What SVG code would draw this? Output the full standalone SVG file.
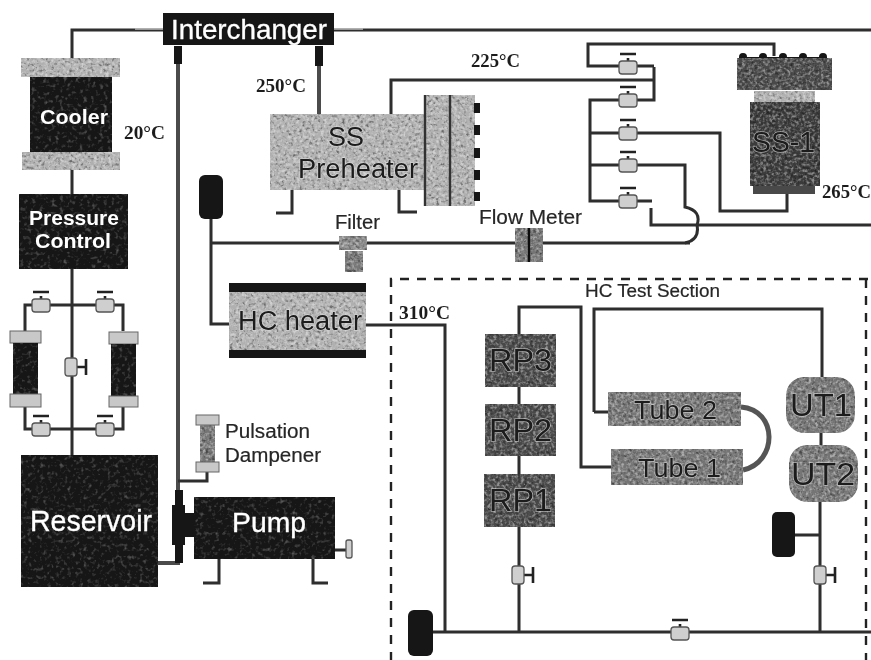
<svg xmlns="http://www.w3.org/2000/svg" width="871" height="660" viewBox="0 0 871 660">
<style>
text{font-family:"Liberation Sans",Arial,sans-serif}
.w{fill:#fff;stroke:#fff;stroke-width:.35}
.wb{fill:#fff;font-weight:bold}
.k{fill:#262626;stroke:#262626;stroke-width:.2}
.h{fill:#1a1a1a;stroke:#e8e8e8;stroke-width:1.4;paint-order:stroke;stroke-opacity:.6}
.t{font-family:"Liberation Serif","Times New Roman",serif;font-weight:bold;fill:#1c1c1c;font-size:18px}
.p{fill:none;stroke:#2f2f2f;stroke-width:3}
.pl{fill:none;stroke:#4c4c4c;stroke-width:4}
.pw{fill:none;stroke:#bbb;stroke-width:1.4}
.d{fill:none;stroke:#222;stroke-width:2.4;stroke-dasharray:9 8}
.dk{fill:#141414}
.gr{fill:#b0b0b0}
.md{fill:#757575}
.dg{fill:#4a4a4a}
.fl{fill:#c8c8c8;stroke:#666;stroke-width:1}
.vb{fill:#cfcfcf;stroke:#555;stroke-width:1.3}
.vs{fill:none;stroke:#222;stroke-width:2.6}
</style>
<defs>
<filter id="n" x="0" y="0" width="100%" height="100%" color-interpolation-filters="sRGB">
<feTurbulence type="fractalNoise" baseFrequency="0.33" numOctaves="2" seed="4" result="t"/>
<feColorMatrix in="t" type="matrix" values="0 0 0 0 1 0 0 0 0 1 0 0 0 0 1 2.2 2.2 0 0 -2.05" result="a"/>
<feComponentTransfer in="a" result="wn"><feFuncA type="linear" slope=".4"/></feComponentTransfer>
<feColorMatrix in="t" type="matrix" values="0 0 0 0 0 0 0 0 0 0 0 0 0 0 0 0 -2.2 -2.2 0 2.05" result="b"/>
<feComponentTransfer in="b" result="kn"><feFuncA type="linear" slope=".4"/></feComponentTransfer>
<feMerge result="m"><feMergeNode in="SourceGraphic"/><feMergeNode in="wn"/><feMergeNode in="kn"/></feMerge>
<feComposite in="m" in2="SourceGraphic" operator="in"/>
</filter>
<filter id="s" x="0" y="0" width="100%" height="100%" color-interpolation-filters="sRGB">
<feTurbulence type="fractalNoise" baseFrequency="0.25" numOctaves="2" seed="9" result="t"/>
<feColorMatrix in="t" type="matrix" values="0 0 0 0 1 0 0 0 0 1 0 0 0 0 1 1.2 1.2 0 0 -1.2" result="a"/>
<feComponentTransfer in="a" result="a2"><feFuncA type="linear" slope=".4"/></feComponentTransfer>
<feComposite in="a2" in2="SourceGraphic" operator="in" result="c"/>
<feMerge><feMergeNode in="SourceGraphic"/><feMergeNode in="c"/></feMerge>
</filter>
<filter id="b" x="-2%" y="-2%" width="104%" height="104%"><feGaussianBlur stdDeviation="0.45"/></filter>
<g id="vh"><path class="vs" d="M0 0V-9M-8 -13H8"/><rect class="vb" x="-9" y="-6" width="18" height="13" rx="3"/></g>
<g id="vr"><path class="vs" d="M0 0H14M15 -8V8"/><rect class="vb" x="-6" y="-9" width="12" height="18" rx="3"/></g>
</defs>
<rect width="871" height="660" fill="#fff"/>
<g filter="url(#b)">
<g id="connectors">
<path class="p" d="M163 30H72V58M334 30H871"/>
<path class="pw" d="M135 29H163M334 29H363"/>
<path class="p" d="M72 170V194M72 269V455"/>
<path class="pl" d="M178 60V490M319 60V114"/>
<path class="dk" d="M174 46h8v18h-8zM315 46h8v20h-8z"/>
<path class="p" d="M178 481H207V472"/>
<path class="pl" d="M158 563H180"/>
<path class="p" d="M25 331V305H123V331M25 407V429H123V407"/>
<path class="p" d="M211 219V324H229M211 243H690"/>
<path class="p" d="M366 325H445V632"/>
<path class="p" d="M391 114V80H654"/>
<path class="p" d="M654 67V100H590V201H652M590 133H720V211H787V194M590 165H685V207Q702 211 697 225Q700 240 685 243M617 66H588V44H774V56M617 66H654"/>
<path class="p" d="M651 208V225H871"/>
<path class="p" d="M519 334V307H581V467H611M594 412H608M594 412V309H822V377"/>
<path d="M741 407C778 410 778 462 743 470" fill="none" stroke="#555" stroke-width="5"/>
<path class="p" d="M519 387V404M519 456V474M519 527V632M821 433V445M820 502V632M795 535H820"/>
<path class="p" d="M433 632H871"/>
<path class="d" d="M868 279H391V660M866 279V660"/>
<path class="p" d="M219 559V583H203M313 559V583H328M292 190V213H276M399 190V212H417"/>
<path class="p" d="M335 550H347"/>
</g>
<g id="interchanger"><rect class="dk" x="163" y="13" width="171" height="32"/><text class="w" x="171" y="39" font-size="27.5" textLength="156" lengthAdjust="spacingAndGlyphs">Interchanger</text></g>
<g id="cooler"><rect class="gr" x="21" y="58" width="99" height="19" filter="url(#n)"/><rect class="dk" x="30" y="77" width="82" height="75" filter="url(#s)"/><rect class="gr" x="22" y="152" width="98" height="18" filter="url(#n)"/><text class="wb" x="40" y="124" font-size="20" textLength="68" lengthAdjust="spacingAndGlyphs">Cooler</text></g>
<g id="pressure-control"><rect class="dk" x="19" y="194" width="109" height="75" filter="url(#s)"/><text class="wb" x="29" y="225" font-size="20" textLength="90" lengthAdjust="spacingAndGlyphs">Pressure</text><text class="wb" x="35" y="248" font-size="20" textLength="76" lengthAdjust="spacingAndGlyphs">Control</text></g>
<g id="trap-left"><rect class="fl" x="10" y="331" width="31" height="12"/><rect class="dk" x="13" y="343" width="25" height="51" filter="url(#s)"/><rect class="fl" x="10" y="394" width="31" height="13"/></g>
<g id="trap-right"><rect class="fl" x="109" y="332" width="29" height="12"/><rect class="dk" x="111" y="344" width="25" height="52" filter="url(#s)"/><rect class="fl" x="109" y="396" width="29" height="11"/></g>
<g id="valve-a"><use href="#vh" x="41" y="305"/></g>
<g id="valve-b"><use href="#vh" x="105" y="305"/></g>
<g id="valve-c"><use href="#vh" x="41" y="429"/></g>
<g id="valve-d"><use href="#vh" x="105" y="429"/></g>
<g id="valve-e"><use href="#vr" x="71" y="367"/></g>
<g id="reservoir"><rect class="dk" x="21" y="455" width="137" height="132" filter="url(#s)"/><text class="w" x="30" y="531" font-size="29" textLength="122" lengthAdjust="spacingAndGlyphs">Reservoir</text></g>
<g id="pulsation-dampener"><rect class="fl" x="196" y="415" width="23" height="10"/><rect class="md" x="200" y="425" width="15" height="37" filter="url(#n)"/><rect class="fl" x="196" y="462" width="23" height="10"/><text class="k" x="225" y="438" font-size="20" textLength="85" lengthAdjust="spacingAndGlyphs">Pulsation</text><text class="k" x="225" y="462" font-size="20" textLength="96" lengthAdjust="spacingAndGlyphs">Dampener</text></g>
<g id="pump"><path class="dk" d="M175 490h8v15h2v8h9v24h-9v8h-2v18h-8v-18h-3v-40h3z"/><rect class="dk" x="194" y="497" width="141" height="62" filter="url(#s)"/><text class="w" x="232" y="532" font-size="28" textLength="74" lengthAdjust="spacingAndGlyphs">Pump</text><rect class="vb" x="346" y="540" width="6" height="18" rx="2"/></g>
<g id="tank-top"><rect class="dk" x="199" y="175" width="24" height="44" rx="6"/></g>
<g id="filter"><text class="k" x="335" y="229" font-size="20" textLength="45" lengthAdjust="spacingAndGlyphs">Filter</text><rect x="339" y="236" width="28" height="14" fill="#888" filter="url(#n)"/><rect x="345" y="251" width="18" height="21" fill="#777" filter="url(#n)"/></g>
<g id="hc-heater"><rect class="gr" x="229" y="283" width="137" height="75" filter="url(#n)"/><rect class="dk" x="229" y="283" width="137" height="9"/><rect class="dk" x="229" y="350" width="137" height="8"/><text class="h" x="238" y="330" font-size="27" textLength="124" lengthAdjust="spacingAndGlyphs">HC heater</text></g>
<text class="t" x="399" y="319" textLength="51" lengthAdjust="spacingAndGlyphs">310°C</text>
<g id="ss-preheater"><rect class="gr" x="270" y="114" width="155" height="76" filter="url(#n)"/><rect class="gr" x="425" y="95" width="50" height="111" filter="url(#n)"/><path d="M425 95V206M450 95V206" stroke="#333" stroke-width="2.4"/><path class="dk" d="M474 103h6v10h-6zM474 125h6v10h-6zM474 148h6v10h-6zM474 170h6v10h-6zM474 192h6v9h-6z"/><text class="h" x="346" y="146" font-size="27" text-anchor="middle">SS</text><text class="h" x="298" y="178" font-size="27.5" textLength="120" lengthAdjust="spacingAndGlyphs">Preheater</text></g>
<text class="t" x="256" y="92" textLength="50" lengthAdjust="spacingAndGlyphs">250°C</text>
<text class="t" x="124" y="139" textLength="41" lengthAdjust="spacingAndGlyphs">20°C</text>
<text class="t" x="471" y="67" textLength="49" lengthAdjust="spacingAndGlyphs">225°C</text>
<g id="valve-1"><use href="#vh" x="628" y="67"/></g>
<g id="valve-2"><use href="#vh" x="628" y="100"/></g>
<g id="valve-3"><use href="#vh" x="628" y="133"/></g>
<g id="valve-4"><use href="#vh" x="628" y="165"/></g>
<g id="valve-5"><use href="#vh" x="628" y="201"/></g>
<g id="ss-1"><path class="dk" d="M739 57a4 4 0 0 1 8 0h12a4 4 0 0 1 8 0h12a4 4 0 0 1 8 0h12a4 4 0 0 1 8 0h12a4 4 0 0 1 8 0v4h-88z"/><rect class="dg" x="737" y="58" width="95" height="32" filter="url(#n)"/><rect class="gr" x="754" y="91" width="61" height="11" filter="url(#n)"/><rect x="750" y="102" width="70" height="84" fill="#3b3b3b" filter="url(#n)"/><rect class="dg" x="753" y="186" width="62" height="8"/><text class="h" x="752" y="152" font-size="29" textLength="63" lengthAdjust="spacingAndGlyphs">SS-1</text></g>
<text class="t" x="822" y="198" textLength="49" lengthAdjust="spacingAndGlyphs">265°C</text>
<g id="flow-meter"><text class="k" x="479" y="224" font-size="20" textLength="103" lengthAdjust="spacingAndGlyphs">Flow Meter</text><rect class="md" x="515" y="228" width="28" height="34" filter="url(#n)"/><path d="M529 228V262" stroke="#111" stroke-width="2.4"/></g>
<text class="k" x="585" y="297" font-size="18" textLength="135" lengthAdjust="spacingAndGlyphs">HC Test Section</text>
<g id="rp3"><rect class="dg" x="485" y="334" width="71" height="53" filter="url(#n)"/><text class="h" x="489" y="371" font-size="31" textLength="63" lengthAdjust="spacingAndGlyphs">RP3</text></g>
<g id="rp2"><rect class="dg" x="485" y="404" width="71" height="52" filter="url(#n)"/><text class="h" x="489" y="441" font-size="31" textLength="63" lengthAdjust="spacingAndGlyphs">RP2</text></g>
<g id="rp1"><rect class="dg" x="484" y="474" width="71" height="53" filter="url(#n)"/><text class="h" x="489" y="511" font-size="31" textLength="63" lengthAdjust="spacingAndGlyphs">RP1</text></g>
<g id="tube-2"><rect class="md" x="608" y="392" width="133" height="34" filter="url(#n)"/><text class="h" x="634" y="419" font-size="26.5" textLength="83" lengthAdjust="spacingAndGlyphs">Tube 2</text></g>
<g id="tube-1"><rect class="md" x="611" y="449" width="132" height="36" filter="url(#n)"/><text class="h" x="638" y="477" font-size="26.5" textLength="83" lengthAdjust="spacingAndGlyphs">Tube 1</text></g>
<g id="ut1"><rect class="md" x="786" y="377" width="69" height="56" rx="18" filter="url(#n)"/><text class="h" x="790" y="416" font-size="32" textLength="62" lengthAdjust="spacingAndGlyphs">UT1</text></g>
<g id="ut2"><rect class="md" x="789" y="445" width="69" height="57" rx="18" filter="url(#n)"/><text class="h" x="791" y="485" font-size="32" textLength="64" lengthAdjust="spacingAndGlyphs">UT2</text></g>
<g id="tank-right"><rect class="dk" x="772" y="512" width="23" height="45" rx="5"/></g>
<g id="tank-bottom"><rect class="dk" x="408" y="610" width="25" height="46" rx="6"/></g>
<g id="valve-rp"><use href="#vr" x="518" y="575"/></g>
<g id="valve-ut"><use href="#vr" x="820" y="575"/></g>
<g id="valve-bottom"><use href="#vh" x="680" y="633"/></g>
</g>
</svg>
